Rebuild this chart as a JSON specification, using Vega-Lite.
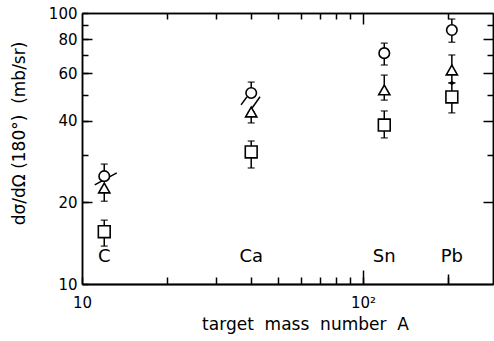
{
  "$schema": "https://vega.github.io/schema/vega-lite/v6.json",
  "width": 411,
  "height": 271,
  "autosize": "none",
  "padding": {"left": 82, "top": 13, "right": 1, "bottom": 57},
  "background": "white",
  "config": {
    "view": {"stroke": null},
    "font": "DejaVu Sans",
    "axis": {
      "grid": false,
      "domainColor": "black",
      "domainWidth": 1.5,
      "tickColor": "black",
      "tickWidth": 1.5,
      "labelColor": "black",
      "labelFontSize": 15,
      "labelFont": "DejaVu Sans",
      "titleFont": "DejaVu Sans",
      "titleColor": "black",
      "titleFontWeight": "normal",
      "titleFontSize": 17,
      "labelFlush": false,
      "labelOverlap": false
    }
  },
  "datasets": {
    "pts": [
      {"A": 12, "shape": "circle", "y": 25.0, "lo": 25.0, "hi": 27.7},
      {"A": 12, "shape": "triangle-up", "y": 22.6, "lo": 20.2, "hi": 22.6},
      {"A": 12, "shape": "square", "y": 15.6, "lo": 13.8, "hi": 17.2},
      {"A": 40, "shape": "circle", "y": 50.7, "lo": 50.7, "hi": 55.6},
      {"A": 40, "shape": "triangle-up", "y": 43.1, "lo": 39.3, "hi": 43.1},
      {"A": 40, "shape": "square", "y": 30.7, "lo": 26.8, "hi": 33.7},
      {"A": 119, "shape": "circle", "y": 71.1, "lo": 64.3, "hi": 77.4},
      {"A": 119, "shape": "triangle-up", "y": 52.0, "lo": 47.7, "hi": 59.0},
      {"A": 119, "shape": "square", "y": 38.6, "lo": 34.6, "hi": 43.5},
      {"A": 207, "shape": "circle", "y": 86.5, "lo": 78.0, "hi": 95.0},
      {"A": 207, "shape": "triangle-up", "y": 61.6, "lo": 55.2, "hi": 70.0},
      {"A": 207, "shape": "square", "y": 49.0, "lo": 42.8, "hi": 55.2}
    ],
    "slash": [
      {"xa": 11.1, "ya": 23.2, "xb": 13.3, "yb": 25.7},
      {"xa": 36.8, "ya": 45.8, "xb": 38.6, "yb": 49.0},
      {"xa": 40.3, "ya": 44.6, "xb": 43.0, "yb": 49.1}
    ],
    "labels": [
      {"A": 12, "name": "C"},
      {"A": 40, "name": "Ca"},
      {"A": 119, "name": "Sn"},
      {"A": 207, "name": "Pb"}
    ],
    "diamond": [
      {"A": 207, "y": 55.2}
    ]
  },
  "layer": [
    {
      "data": {"name": "pts"},
      "mark": {"type": "rule", "color": "black", "strokeWidth": 1.5},
      "encoding": {
        "x": {
          "field": "A", "type": "quantitative",
          "scale": {"type": "log", "domain": [10, 290], "nice": false},
          "axis": {
            "orient": "bottom",
            "values": [10, 20, 30, 40, 50, 60, 70, 80, 90, 100, 200],
            "labelExpr": "datum.value == 10 ? '10' : (datum.value == 100 ? '10²' : '')",
            "tickSize": -7,
            "labelPadding": 18,
            "title": "target\u00a0\u00a0mass\u00a0\u00a0number\u00a0\u00a0A",
            "titlePadding": 6,
            "titleX": 223
          }
        },
        "y": {
          "field": "lo", "type": "quantitative",
          "scale": {"type": "log", "domain": [10, 100], "nice": false},
          "axis": {
            "orient": "left",
            "values": [10, 20, 30, 40, 50, 60, 70, 80, 90, 100],
            "labelExpr": "indexof([10, 20, 40, 60, 80, 100], datum.value) >= 0 ? format(datum.value, 'd') : ''",
            "tickSize": -6,
            "labelPadding": 11,
            "title": "dσ/dΩ (180°)\u00a0\u00a0(mb/sr)",
            "titlePadding": 20,
            "titleY": 120
          }
        },
        "y2": {"field": "hi"}
      }
    },
    {
      "data": {"name": "pts"},
      "mark": {"type": "tick", "orient": "horizontal", "color": "black", "size": 7, "thickness": 1.5},
      "encoding": {
        "x": {
          "field": "A", "type": "quantitative",
          "scale": {"type": "log", "domain": [10, 290], "nice": false},
          "axis": {
            "orient": "top",
            "values": [20, 30, 40, 50, 60, 70, 80, 90, 200],
            "labels": false,
            "tickSize": -6,
            "title": null
          }
        },
        "y": {
          "field": "hi", "type": "quantitative",
          "scale": {"type": "log", "domain": [10, 100], "nice": false},
          "axis": {
            "orient": "right",
            "values": [30, 50, 70, 90],
            "labels": false,
            "tickSize": -6,
            "title": null
          }
        }
      }
    },
    {
      "data": {"name": "pts"},
      "mark": {"type": "tick", "orient": "horizontal", "color": "black", "size": 7, "thickness": 1.5},
      "encoding": {
        "x": {
          "field": "A", "type": "quantitative",
          "scale": {"type": "log", "domain": [10, 290], "nice": false},
          "axis": {
            "orient": "bottom",
            "values": [100],
            "labels": false,
            "tickSize": -14,
            "title": null
          }
        },
        "y": {
          "field": "lo", "type": "quantitative",
          "scale": {"type": "log", "domain": [10, 100], "nice": false},
          "axis": {
            "orient": "left",
            "values": [20, 40, 60, 80],
            "labels": false,
            "tickSize": -10,
            "title": null
          }
        }
      }
    },
    {
      "data": {"name": "slash"},
      "mark": {"type": "rule", "color": "black", "strokeWidth": 1.5},
      "encoding": {
        "x": {
          "field": "xa", "type": "quantitative",
          "scale": {"type": "log", "domain": [10, 290], "nice": false},
          "axis": {
            "orient": "top",
            "values": [100],
            "labels": false,
            "tickSize": -11,
            "title": null
          }
        },
        "x2": {"field": "xb"},
        "y": {
          "field": "ya", "type": "quantitative",
          "scale": {"type": "log", "domain": [10, 100], "nice": false},
          "axis": {
            "orient": "right",
            "values": [20, 40, 60, 80],
            "labels": false,
            "tickSize": -10,
            "title": null
          }
        },
        "y2": {"field": "yb"}
      }
    },
    {
      "data": {"name": "pts"},
      "mark": {"type": "point", "filled": false, "fill": "white", "fillOpacity": 1, "stroke": "black", "strokeWidth": 1.6, "opacity": 1},
      "encoding": {
        "x": {
          "field": "A", "type": "quantitative",
          "scale": {"type": "log", "domain": [10, 290], "nice": false},
          "axis": {
            "orient": "bottom",
            "values": [200],
            "labels": false,
            "tickSize": -10,
            "title": null
          }
        },
        "y": {"field": "y", "type": "quantitative", "scale": {"type": "log", "domain": [10, 100], "nice": false}, "axis": null},
        "shape": {"field": "shape", "type": "nominal", "scale": null, "legend": null},
        "size": {"field": "shape", "type": "nominal", "scale": {"domain": ["circle", "triangle-up", "square"], "range": [110, 140, 100]}, "legend": null}
      }
    },
    {
      "data": {"name": "diamond"},
      "mark": {"type": "point", "shape": "diamond", "filled": true, "color": "black", "size": 25, "opacity": 1},
      "encoding": {
        "x": {"field": "A", "type": "quantitative", "scale": {"type": "log", "domain": [10, 290], "nice": false}, "axis": null},
        "y": {"field": "y", "type": "quantitative", "scale": {"type": "log", "domain": [10, 100], "nice": false}, "axis": null}
      }
    },
    {
      "data": {"name": "labels"},
      "mark": {"type": "text", "fontSize": 18, "color": "black", "baseline": "middle", "align": "center", "font": "DejaVu Sans"},
      "encoding": {
        "x": {"field": "A", "type": "quantitative", "scale": {"type": "log", "domain": [10, 290], "nice": false}, "axis": null},
        "y": {"datum": 12.6, "type": "quantitative", "scale": {"type": "log", "domain": [10, 100], "nice": false}, "axis": null},
        "text": {"field": "name"}
      }
    }
  ],
  "resolve": {"axis": {"x": "independent", "y": "independent"}}
}
